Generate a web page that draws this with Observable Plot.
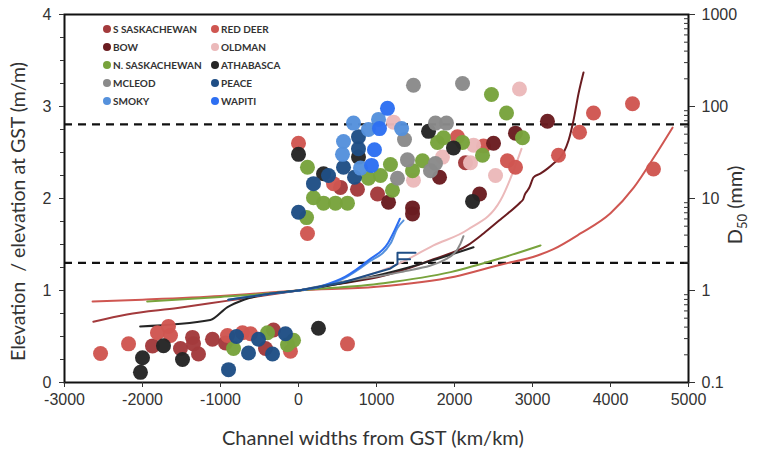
<!DOCTYPE html>
<html><head><meta charset="utf-8">
<script src="https://cdn.jsdelivr.net/npm/d3@7"></script>
<script src="https://cdn.jsdelivr.net/npm/@observablehq/plot@0.6"></script>
<style>
body{margin:0;background:#fff;}
#wrap{position:relative;width:761px;height:453px;overflow:hidden;}
.ttl{position:absolute;font-family:Lato,"Open Sans",sans-serif;color:#333;white-space:pre;font-size:20px;}
#legend{position:absolute;left:103px;top:22px;display:grid;grid-template-columns:108px 100px;row-gap:4px;font-family:Lato,sans-serif;font-weight:bold;font-size:10px;color:#333;}
#legend div{display:flex;align-items:center;height:14px;}
#legend span.sw{width:8px;height:8px;border-radius:50%;margin-right:2px;display:inline-block;}
</style></head><body><div id="wrap"></div><script>
// Series
const series = ["S SASKACHEWAN","RED DEER","BOW","OLDMAN","N. SASKACHEWAN","ATHABASCA","MCLEOD","PEACE","SMOKY","WAPITI"];
const colors = ["#a33a3c","#cf5651","#6a1c20","#ebb9ba","#78a33c","#252525","#8a8a8a","#1f4e85","#5591dc","#2d6ff2"];

// D50 sample points: [channel widths from GST, D50 (mm)]
const ptsSSask = [[-1872,0.25],[-1513,0.234],[-1359,0.309],[-1346,0.263],[-1282,0.204],[-1103,0.295],[-936,0.269],[-423,0.234],[-321,0.372],
  [538,13.2],[756,12.6],[1013,11.2],[2141,24.5]];
const ptsRedDeer = [[-2538,0.207],[-2179,0.263],[-1808,0.347],[-1667,0.407],[-1641,0.324],[-910,0.324],[-718,0.347],[-615,0.339],[-103,0.219],[628,0.263],
  [0,39.8],[115,4.17],[449,14.5],[2038,46.8],[2372,37.2],[2679,25.7],[2782,21.9],[3333,29.5],[3603,52.5],[3782,85],[4282,107],[4551,20.9]];
const ptsBow = [[1154,9.1],[1462,7.9],[1462,6.8],[2321,11.2],[2500,39.8],[2782,51.3],[3192,69.2],[1808,17]];
const ptsOldman = [[2833,155],[2244,38],[2205,24.5],[1846,28.2],[2526,17.8],[1474,15.8],[1218,67.6]];
const ptsNSask = [[-833,0.234],[-397,0.347],[-64,0.288],[-141,0.257],
  [2474,135],[2667,85],[115,21.9],[192,10.2],[103,6.2],[321,8.9],[474,8.9],[628,8.9],[897,16.6],[1051,17.8],[1179,23.4],[1205,12.3],[1462,20],[1590,25.7],[1782,40.7],[1859,45.7],[2103,40.7],[2359,29.5],[2872,45.7]];
const ptsAthabasca = [[-2000,0.186],[-2026,0.129],[-1731,0.251],[-1487,0.178],[256,0.389],
  [0,30.2],[769,28.2],[321,18.6],[1667,53.7],[1987,35.5],[2231,9.3]];
const ptsMcleod = [[1474,170],[2103,178],[1359,43.7],[1756,66],[1897,66],[1397,26.3],[1269,16.6],[1756,24],[1692,20]];
const ptsPeace = [[-897,0.138],[-795,0.316],[-641,0.209],[-513,0.295],[-333,0.204],[-167,0.339],
  [769,46.8],[769,34.7],[577,21.9],[718,17],[192,14.5],[385,17.8],[0,7.1]];
const ptsSmoky = [[705,66],[897,56.2],[1026,72.4],[1321,57.5],[577,41.7],[564,30.2],[795,21.4]];
const ptsWapiti = [[1141,95.5],[1038,57.5],[974,33.9],[936,22.9]];
const pointSets = [ptsSSask,ptsRedDeer,ptsBow,ptsOldman,ptsNSask,ptsAthabasca,ptsMcleod,ptsPeace,ptsSmoky,ptsWapiti];

// Elevation profiles: [channel widths from GST, elevation / elevation at GST]
const lnSSask = [[-2630,0.66],[-2200,0.74],[-1550,0.81],[-900,0.89],[-400,0.95],[0,1.0]];
const lnRedDeer = [[-2640,0.88],[-2000,0.9],[-1000,0.94],[-500,0.97],[0,1.0],[1000,1.04],[2000,1.15],[2590,1.28],[3064,1.38],[3269,1.45],[3615,1.62],[4000,1.84],[4300,2.12],[4551,2.44],[4795,2.77]];
const lnBow = [[0,1.0],[500,1.07],[1090,1.16],[1731,1.34],[2167,1.49],[2372,1.62],[2600,1.78],[2846,1.96],[2880,1.99],[2900,2.04],[2930,2.08],[2960,2.12],[3013,2.23],[3100,2.27],[3200,2.33],[3269,2.38],[3400,2.5],[3462,2.63],[3526,2.85],[3590,3.14],[3654,3.37]];
const lnOldman = [[0,1.0],[667,1.11],[1308,1.30],[1731,1.49],[2167,1.66],[2590,1.98],[2756,2.30],[2859,2.54]];
const lnNSask = [[-1940,0.88],[-1000,0.93],[-500,0.96],[0,1.0],[1090,1.08],[1949,1.20],[2590,1.35],[3103,1.49]];
const lnAthabasca = [[-2030,0.61],[-1130,0.68],[-910,0.82],[-700,0.90],[-320,0.97],[0,1.0],[500,1.07],[1090,1.18],[1731,1.33],[2244,1.47]];
const lnMcleod = [[0,1.0],[600,1.1],[1308,1.20],[1910,1.35],[2077,1.51],[2115,1.59]];
const lnPeace = [[-900,0.90],[-320,0.97],[0,1.0],[577,1.09],[1179,1.24],[1269,1.29],[1269,1.41],[1500,1.41],[1269,1.41],[1269,1.34],[1430,1.34]];
const lnSmoky = [[-900,0.90],[-300,0.97],[0,1.0],[282,1.04],[577,1.13],[885,1.30],[1179,1.51],[1269,1.68],[1346,1.76]];
const lnWapiti = [[0,1.0],[300,1.05],[600,1.15],[900,1.33],[1150,1.52],[1230,1.65],[1300,1.78]];
const lineSets = [lnSSask,lnRedDeer,lnBow,lnOldman,lnNSask,lnAthabasca,lnMcleod,lnPeace,lnSmoky,lnWapiti];

// Sediment size thresholds (mm)
const thresholds = [64, 2];
const d50Ticks = [0.1, 1, 10, 100, 1000];
const xTicks = [-3000,-2000,-1000,0,1000,2000,3000,4000,5000];
const yTicks = [0,1,2,3,4];

const toY = d => Math.log10(d) + 1; // right (log D50) axis mapped onto left scale

const lineData = lineSets.flatMap((s,i) => s.map(([x,y]) => ({x, y, s: series[i]})));
const smoothLines = lineData.filter(d => d.s !== "PEACE");
const stepLines = lineData.filter(d => d.s === "PEACE");
const pointData = pointSets.flatMap((s,i) => s.map(([x,d]) => ({x, y: toY(d), s: series[i]})));
const minorLog = d3.range(-1,3).flatMap(e => d3.range(2,10).map(k => toY(k*Math.pow(10,e))));
const minorLin = d3.range(0,4.001,0.25);

const chart = Plot.plot({
  width: 761, height: 453,
  marginLeft: 64, marginRight: 73, marginTop: 14, marginBottom: 71,
  style: {fontFamily: "'Liberation Sans', Arial, sans-serif", fontSize: "16px", color: "#333", background: "#fff"},
  x: {domain: [-3000, 5000]},
  y: {domain: [0, 4]},
  color: {domain: series, range: colors},
  marks: [
    Plot.ruleY(thresholds.map(toY), {stroke: "#111", strokeWidth: 2.2, strokeDasharray: "8,6"}),
    Plot.line(smoothLines, {x: "x", y: "y", z: "s", stroke: "s", strokeWidth: 2, curve: "monotone-x"}),
    Plot.line(stepLines, {x: "x", y: "y", z: "s", stroke: "s", strokeWidth: 2, curve: "linear"}),
    Plot.dot(pointData, {x: "x", y: "y", fill: "s", r: 7.5, fillOpacity: 0.97}),
    Plot.frame({stroke: "#111", strokeWidth: 2}),
    Plot.axisX({ticks: xTicks, tickSize: 5, tickPadding: 6, tickFormat: d => String(d), label: null, fontSize: 16}),
    Plot.axisY({ticks: minorLin, tickSize: 4, tickFormat: () => "", label: null}),
    Plot.axisY({ticks: yTicks, tickSize: 5, tickPadding: 8, tickFormat: d => String(d), label: null}),
    Plot.axisY({anchor: "right", ticks: minorLog, tickSize: -5, tickFormat: () => "", label: null}),
    Plot.axisY({anchor: "right", ticks: d50Ticks.map(toY), tickSize: 6, tickPadding: 7, tickFormat: d => String(d50Ticks[Math.round(d)]), label: null})
  ]
});
const wrap = document.getElementById("wrap");
wrap.appendChild(chart);

// Titles
const xt = document.createElement("div");
xt.className = "ttl"; xt.textContent = "Channel widths from GST (km/km)";
wrap.appendChild(xt);
xt.style.left = (373 - xt.offsetWidth/2) + "px"; xt.style.top = (437 - xt.offsetHeight/2) + "px";

const yt = document.createElement("div");
yt.className = "ttl"; yt.style.fontSize = "19.5px"; yt.textContent = "Elevation  / elevation at GST (m/m)";
wrap.appendChild(yt);
yt.style.left = (17 - yt.offsetWidth/2) + "px"; yt.style.top = (211 - yt.offsetHeight/2) + "px";
yt.style.transform = "rotate(-90deg)";

const rt = document.createElement("div");
rt.className = "ttl"; rt.innerHTML = "D<sub style='font-size:13px'>50</sub> (mm)";
wrap.appendChild(rt);
rt.style.left = (736 - rt.offsetWidth/2) + "px"; rt.style.top = (205 - rt.offsetHeight/2) + "px";
rt.style.transform = "rotate(-90deg)";

// Legend
const lg = document.createElement("div");
lg.id = "legend";
series.forEach((s,i) => {
  const it = document.createElement("div");
  it.innerHTML = `<span class="sw" style="background:${colors[i]}"></span>${s}`;
  lg.appendChild(it);
});
wrap.appendChild(lg);
</script></body></html>
